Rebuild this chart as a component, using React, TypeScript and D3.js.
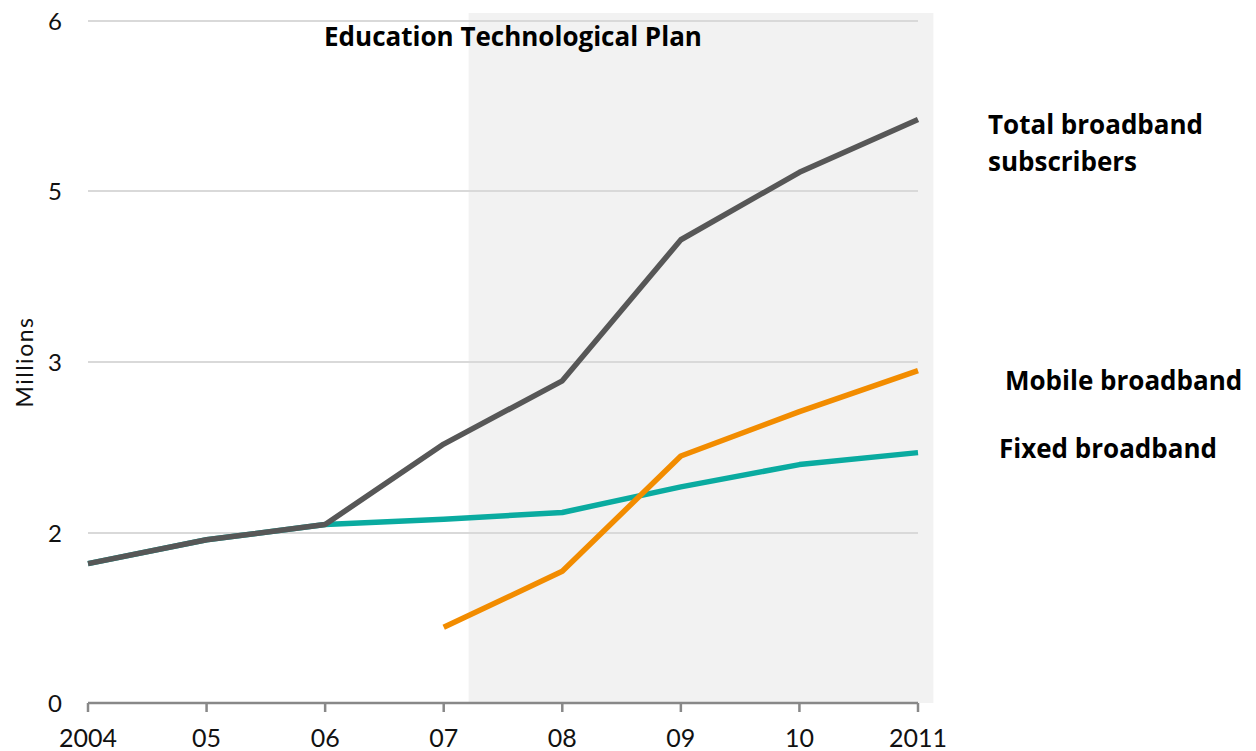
import React from "react";
import * as d3 from "d3";

const years = ["2004", "05", "06", "07", "08", "09", "10", "2011"];
const totalSeries = [1.64, 1.92, 2.05, 2.52, 2.89, 4.43, 5.11, 5.42];
const fixedSeries = [1.64, 1.92, 2.05, 2.08, 2.12, 2.27, 2.4, 2.47];
const mobileSeries: (number | null)[] = [null, null, null, 0.89, 1.55, 2.45, 2.71, 2.95];
const yTicks = [0, 2, 3, 5, 6];
const shadeFrom = 3.21; // in year-index units
const shadeTo = 7.13;

const W = 1256;
const H = 751;

export default function App() {
  const x = d3.scalePoint<string>().domain(years).range([88, 918]);
  const xi = d3.scaleLinear().domain([0, years.length - 1]).range([88, 918]);
  // the source chart spaces its tick labels evenly
  const y = d3.scaleLinear().domain(yTicks).range([703, 533, 362, 191, 21]);

  const line = d3
    .line<number | null>()
    .defined((d) => d !== null)
    .x((_, i) => x(years[i]) as number)
    .y((d) => y(d as number));

  const tickFont = "Lato, 'DejaVu Sans', sans-serif";
  const labelFont = "'Open Sans', 'Liberation Sans', sans-serif";

  return (
    <svg
      width={W}
      height={H}
      style={{ position: "absolute", left: 0, top: 0, background: "#fff" }}
    >
      <rect
        x={xi(shadeFrom)}
        y={13}
        width={xi(shadeTo) - xi(shadeFrom)}
        height={703 - 13}
        fill="#f2f2f2"
      />
      {yTicks
        .filter((t) => t !== 0)
        .map((t) => (
          <line key={t} x1={88} x2={918} y1={y(t)} y2={y(t)} stroke="#d9d9d9" strokeWidth={2} />
        ))}
      {yTicks.map((t) => (
        <text
          key={"yl" + t}
          x={62}
          y={y(t)}
          dy="0.36em"
          textAnchor="end"
          fontFamily={tickFont}
          fontSize={24}
          fill="#111"
        >
          {t}
        </text>
      ))}
      <text
        transform={`translate(33,362) rotate(-90)`}
        textAnchor="middle"
        fontFamily={tickFont}
        fontSize={23}
        letterSpacing={1.5}
        fill="#111"
      >
        Millions
      </text>

      <path d={line(fixedSeries) || ""} fill="none" stroke="#0aaba0" strokeWidth={5.5} strokeLinejoin="round" />
      <path d={line(mobileSeries) || ""} fill="none" stroke="#f28c00" strokeWidth={5.5} strokeLinejoin="round" />
      <path d={line(totalSeries) || ""} fill="none" stroke="#575757" strokeWidth={5.5} strokeLinejoin="round" />

      <line x1={88} x2={918} y1={703} y2={703} stroke="#888" strokeWidth={2.5} />
      {years.map((yr) => (
        <g key={yr}>
          <line x1={x(yr)} x2={x(yr)} y1={703} y2={712} stroke="#888" strokeWidth={2.5} />
          <text
            x={x(yr)}
            y={747}
            textAnchor="middle"
            fontFamily={tickFont}
            fontSize={25}
            fill="#111"
          >
            {yr}
          </text>
        </g>
      ))}

      <text x={513} y={46} textAnchor="middle" fontFamily={labelFont} fontWeight="bold" fontSize={26} fill="#000">
        Education Technological Plan
      </text>
      <text x={988} y={134} fontFamily={labelFont} fontWeight="bold" fontSize={26} fill="#000">
        Total broadband
      </text>
      <text x={988} y={171} fontFamily={labelFont} fontWeight="bold" fontSize={26} fill="#000">
        subscribers
      </text>
      <text x={1005} y={390} fontFamily={labelFont} fontWeight="bold" fontSize={26} fill="#000">
        Mobile broadband
      </text>
      <text x={999} y={458} fontFamily={labelFont} fontWeight="bold" fontSize={26} fill="#000">
        Fixed broadband
      </text>
    </svg>
  );
}
